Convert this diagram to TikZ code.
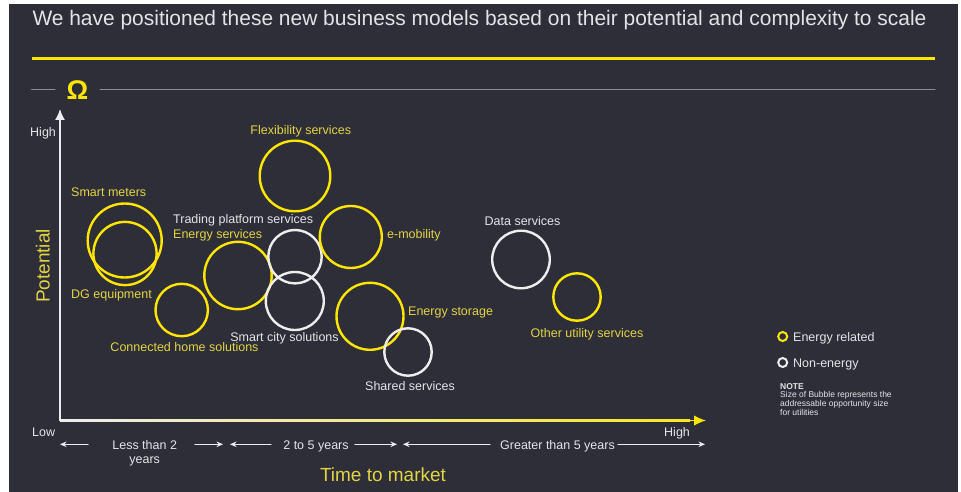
\documentclass[tikz,border=0pt]{standalone}
\usepackage{fontspec}
\setmainfont{Liberation Sans}
\usetikzlibrary{arrows.meta}

\definecolor{eydark}{HTML}{2E2E38}
\definecolor{eyyellow}{HTML}{FFE600}
\definecolor{labyellow}{HTML}{E2D444}
\definecolor{labwhite}{HTML}{E4E4E6}
\definecolor{axiswhite}{HTML}{EDEDED}
\definecolor{rulegrey}{HTML}{8C8C94}

\def\labelfont{\fontsize{12.5}{14}\selectfont}
\def\axisfont{\fontsize{19}{22}\selectfont}

\tikzset{
  bubble/.style={circle, draw=#1, line width=2.4pt, inner sep=0pt},
  ylabel/.style={text=labyellow, font=\labelfont, inner sep=0pt, anchor=base},
  wlabel/.style={text=labwhite, font=\labelfont, inner sep=0pt, anchor=base},
  spanarrow/.style={->, axiswhite, line width=1.3pt},
  keydot/.style={circle, draw=#1, line width=2pt, inner sep=0pt, minimum size=9pt},
}

\begin{document}
\begin{tikzpicture}[x=1pt, y=-1pt,
                    >={Stealth[length=6.5pt,width=5.5pt]}, line cap=round
                   ]

    \useasboundingbox (0,0) rectangle (961,492);
    \fill [white] (0,0) rectangle (961,492);
    \fill [eydark] (9,4) rectangle (958,492);

    % heading and rules
    \node [anchor=base west, inner sep=0pt, text=labwhite,
           font=\fontsize{20.95}{24}\selectfont] (title) at (32.3,26)
        {We have positioned these new business models based on their potential and complexity to scale};
    \draw [eyyellow, line width=3pt, line cap=butt] (31.7,59) -- (935,59);
    \node [anchor=base, inner sep=0pt, text=eyyellow,
           font=\fontsize{27}{30}\selectfont\bfseries] (omega) at (77.5,100) {Ω};
    \draw [rulegrey, line width=1pt] (31.7,89.3) -- (55,89.3);
    \draw [rulegrey, line width=1pt] (100,89.3) -- (935,89.3);

    % axes
    \coordinate (origin) at (60,420.5);
    \coordinate (ytip) at (60,109);
    \coordinate (xstart) at (682,420.5);
    \coordinate (xtip) at (706,420.5);
    \shade [left color=axiswhite, right color=eyyellow!85!axiswhite]
        (60,419.7) rectangle (690,421.3);
    \draw [eyyellow, line width=1.6pt, -{Latex[length=12pt,width=10.5pt]}] (xstart) -- (xtip);
    \draw [axiswhite, line width=1.5pt, -{Latex[length=11pt,width=10pt]}] (origin) -- (ytip);

    \node [wlabel, anchor=base west] (yhigh) at (30,136) {High};
    \node [wlabel, anchor=base west] (xlow) at (32,436) {Low};
    \node [wlabel, anchor=base west] (xhigh) at (664,436) {High};
    \node [ylabel, font=\axisfont, rotate=90] (potential) at (49.5,266) {Potential};
    \node [ylabel, font=\axisfont] (ttm) at (383,481.7) {Time to market};

    % time spans
    \node [wlabel, anchor=north, align=center] (short) at (144.7,440.3) {Less than 2\\years};
    \node [wlabel] (medium) at (316,449.5) {2 to 5 years};
    \node [wlabel] (long) at (557.5,449.5) {Greater than 5 years};
    \foreach \a/\b [count=\k] in {88/60, 195/223, 271/230, 355/397, 490/403, 618/705}{
        \coordinate (s\k) at (\a,444.3);
        \coordinate (t\k) at (\b,444.3);
        \draw [spanarrow] (s\k) -- (t\k);
    }

    % bubbles
    \foreach \nm/\cx/\cy/\r/\col in {
          flex/295/176/35.3/eyyellow,
          meters/124.7/240.5/37/eyyellow,
          dg/125/253.5/31.6/eyyellow,
          home/181.7/310/26.2/eyyellow,
          energy/238/275.5/33.7/eyyellow,
          trading/295/256.7/26.7/axiswhite,
          city/294.8/301/29/axiswhite,
          emob/350.8/237/31/eyyellow,
          storage/370/316.3/33.5/eyyellow,
          shared/408/352/23.7/axiswhite,
          data/521/259.5/28.8/axiswhite,
          other/577/297/23.7/eyyellow}{
        \node [bubble=\col, minimum size={2*\r pt}] (\nm) at (\cx,\cy) {};
    }

    \node [ylabel] (flexlab) at (300.8,135) {Flexibility services};
    \node [ylabel, anchor=base west] (meterslab) at (71,196) {Smart meters};
    \node [ylabel, anchor=base west] (dglab) at (71,298) {DG equipment};
    \node [ylabel] (homelab) at (184.5,351.5) {Connected home solutions};
    \node [wlabel, anchor=base west] (tradinglab) at (173,223) {Trading platform services};
    \node [ylabel, anchor=base west] (energylab) at (173,238.5) {Energy services};
    \node [wlabel] (citylab) at (284.5,341.5) {Smart city solutions};
    \node [ylabel, anchor=base west] (emoblab) at (387,238) {e-mobility};
    \node [ylabel, anchor=base west] (storagelab) at (408,315.5) {Energy storage};
    \node [wlabel] (sharedlab) at (410,390) {Shared services};
    \node [wlabel] (datalab) at (522.5,225) {Data services};
    \node [ylabel] (otherlab) at (587,337) {Other utility services};

    % key
    \node [keydot=eyyellow] (keyenergy) at (782.7,336.5) {};
    \node [wlabel, anchor=base west] (keyenergylab) at (793,341) {Energy related};
    \node [keydot=axiswhite] (keynon) at (782.7,362.5) {};
    \node [wlabel, anchor=base west] (keynonlab) at (793,367) {Non-energy};
    \node [anchor=north west, inner sep=0pt, align=left, text=labwhite,
           font=\fontsize{8.5}{8.7}\selectfont] (note) at (780,382.9)
        {\textbf{NOTE}\\Size of Bubble represents the\\addressable opportunity size\\for utilities};

\end{tikzpicture}
\end{document}
